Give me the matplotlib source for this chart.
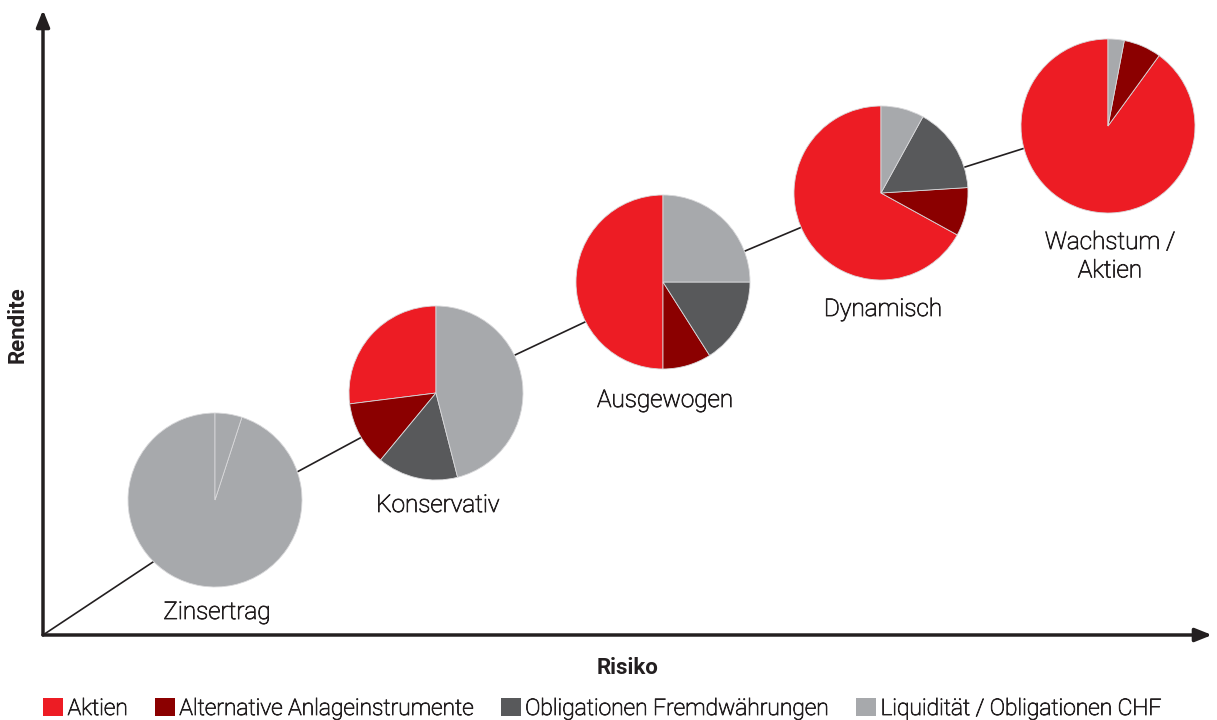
import matplotlib.pyplot as plt
import matplotlib.patheffects as pe
from matplotlib.patches import Patch

plt.rcParams['font.family'] = ['Roboto', 'DejaVu Sans']

# Anlagekategorien und Farben
kategorien = ["Aktien", "Alternative Anlageinstrumente",
              "Obligationen Fremdwährungen", "Liquidität / Obligationen CHF"]
farben = ["#ED1C24", "#8B0000", "#58595B", "#A7A9AC"]

# Strategien mit Lage im Risiko/Rendite-Diagramm
strategien = ["Zinsertrag", "Konservativ", "Ausgewogen", "Dynamisch", "Wachstum /\nAktien"]
risiko = [1.72, 3.93, 6.20, 8.38, 10.65]
rendite = [1.35, 2.42, 3.53, 4.42, 5.09]

# Gewichtungen in Prozent
aktien = [0, 27, 50, 67, 90]
alternative = [0, 12, 9, 9, 7]
obl_fremdw = [0, 15, 16, 16, 0]
obl_chf = [95, 46, 25, 8, 3]
liquiditaet = [5, 0, 0, 0, 0]

# Effizienzlinie
kurve_x = [0.0, 1.10, 2.54, 3.19, 4.72, 5.42, 7.02, 7.59, 9.22, 9.82, 10.3]
kurve_y = [0.0, 0.73, 1.63, 1.98, 2.80, 3.13, 3.84, 4.08, 4.68, 4.87, 5.00]

textfarbe = "#231F20"
# leichte Schrift etwas kräftiger zeichnen
dicker = [pe.withStroke(linewidth=0.6, foreground=textfarbe)]

fig = plt.figure(figsize=(12.17, 7.2), dpi=100)
ax = fig.add_axes([43 / 1217, 85 / 720, 1169 / 1217, 625 / 720])

ax.plot(kurve_x, kurve_y, color=textfarbe, lw=1.2, zorder=1)

radius = 0.87
abstand = [0.14, 0.14, 0.20, 0.18, 0.18]
for i, name in enumerate(strategien):
    werte = [aktien[i], alternative[i], obl_fremdw[i], obl_chf[i], liquiditaet[i]]
    cols = farben + [farben[3]]
    w = [v for v in werte if v > 0]
    c = [cols[k] for k, v in enumerate(werte) if v > 0]
    wedges, _ = ax.pie(w, colors=c, center=(risiko[i], rendite[i]), radius=radius,
                       startangle=90, counterclock=True, frame=True,
                       wedgeprops=dict(edgecolor="#D8D8DA", linewidth=0.6))
    for wd in wedges:
        wd.set_zorder(3)
    ax.text(risiko[i] + 0.02, rendite[i] - radius - abstand[i], name, ha="center",
            va="top", fontsize=17.5, fontweight="light", color=textfarbe,
            linespacing=1.3, zorder=4, path_effects=dicker)

ax.set_xlim(0, 11.69)
ax.set_ylim(0, 6.25)
ax.set_aspect("auto")
ax.set_xticks([])
ax.set_yticks([])
for s in ax.spines.values():
    s.set_visible(False)

# Achsenpfeile
pfeil = dict(arrowstyle="-|>,head_length=1.0,head_width=0.4", color=textfarbe,
             lw=2.5, shrinkA=0, shrinkB=0)
ax.annotate("", xy=(1, 0), xytext=(0, 0), xycoords="axes fraction",
            arrowprops=pfeil, annotation_clip=False)
ax.annotate("", xy=(0, 1), xytext=(0, 0), xycoords="axes fraction",
            arrowprops=pfeil, annotation_clip=False)

fig.text(628 / 1217, 1 - 668 / 720, "Risiko", ha="center", va="center",
         fontsize=16, fontweight="bold", color=textfarbe)
fig.text(18 / 1217, 1 - 325 / 720, "Rendite", ha="center", va="center",
         rotation=90, fontsize=16, fontweight="bold", color=textfarbe)

handles = [Patch(facecolor=f, edgecolor="none") for f in farben]
leg = fig.legend(handles, kategorien, loc="lower left", bbox_to_anchor=(43 / 1217, 0.0),
                 ncol=4, frameon=False, borderpad=0, borderaxespad=0, fontsize=16.4,
                 handlelength=0.88, handleheight=0.88, handletextpad=0.2,
                 columnspacing=1.18, labelcolor=textfarbe)
for t in leg.get_texts():
    t.set_fontweight("light")
    t.set_path_effects(dicker)

fig.savefig("out.png", dpi=100)
